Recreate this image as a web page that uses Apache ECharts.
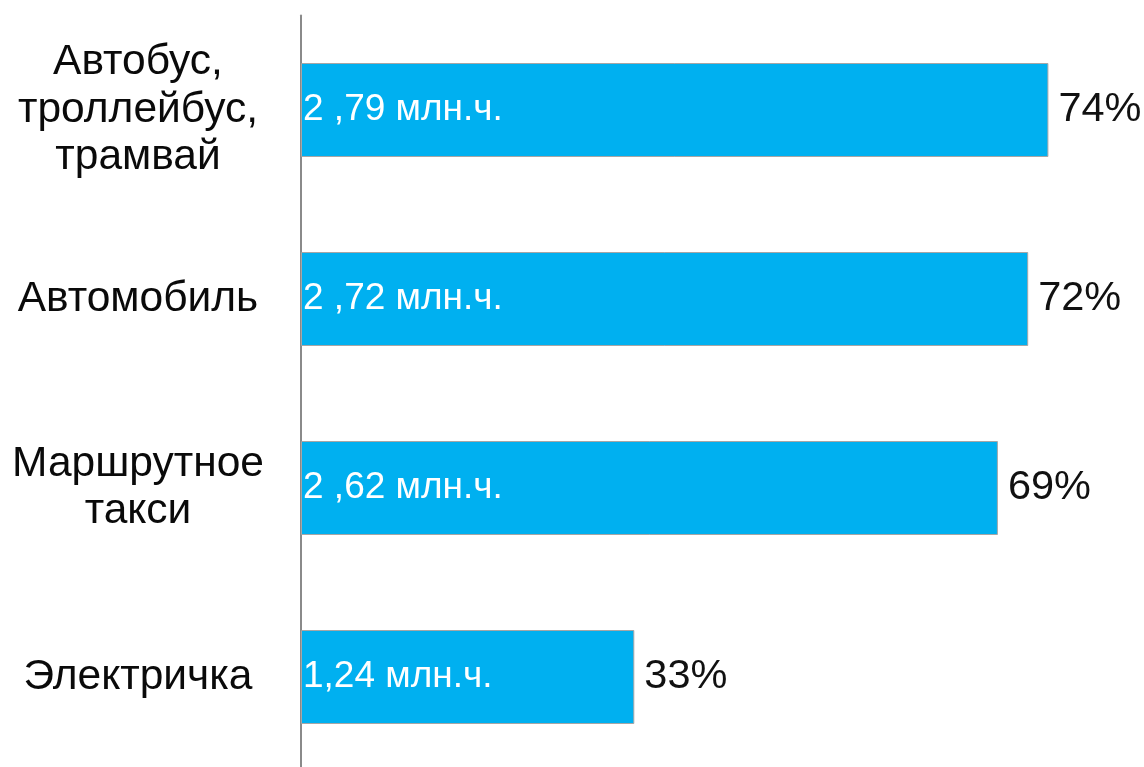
<!DOCTYPE html>
<html>
<head>
<meta charset="utf-8">
<script src="https://cdn.jsdelivr.net/npm/echarts@6/dist/echarts.min.js"></script>
<style>
  html, body { margin: 0; padding: 0; background: #ffffff; overflow: hidden; }
  /* The plot runs past the lower edge of the page, so the canvas is a bit taller */
  #chart { width: 1144px; height: 780px; }
</style>
</head>
<body>
<div id="chart"></div>
<script>
// Transport modes (top to bottom)
var categories = [
  'Автобус,\nтроллейбус,\nтрамвай',
  'Автомобиль',
  'Маршрутное\nтакси',
  'Электричка'
];
// Share of time, percent
var shares = [74, 72, 69, 33];
// Hours shown inside each bar
var hourLabels = ['2 ,79 млн.ч.', '2 ,72 млн.ч.', '2 ,62 млн.ч.', '1,24 млн.ч.'];

var font = '"Liberation Sans", Arial, sans-serif';

var chart = echarts.init(document.getElementById('chart'), null, { renderer: 'canvas' });

chart.setOption({
  animation: false,
  backgroundColor: '#ffffff',
  grid: { left: 301, top: 15.5, width: 808, height: 756, containLabel: false },
  xAxis: {
    type: 'value',
    min: 0,
    max: 80,
    show: false
  },
  yAxis: {
    type: 'category',
    inverse: true,
    data: categories,
    axisLine: { show: true, lineStyle: { color: '#8a8a8a', width: 2 } },
    axisTick: { show: false },
    splitLine: { show: false },
    axisLabel: {
      margin: 163,
      align: 'center',
      color: '#0a0a0a',
      fontFamily: font,
      fontSize: 42.5,
      lineHeight: 47.5
    }
  },
  series: [
    {
      type: 'bar',
      data: shares,
      barWidth: 94,
      itemStyle: { color: '#00b0f0', borderColor: '#a6a6a6', borderWidth: 1 },
      label: {
        show: true,
        position: 'right',
        distance: 10,
        formatter: '{c}%',
        color: '#111111',
        fontFamily: font,
        fontSize: 41.5
      }
    },
    {
      // Transparent overlay carrying the in-bar hour labels
      type: 'bar',
      data: shares,
      barWidth: 94,
      barGap: '-100%',
      itemStyle: { color: 'rgba(0,0,0,0)' },
      label: {
        show: true,
        position: 'insideLeft',
        distance: 2,
        formatter: function (p) { return hourLabels[p.dataIndex]; },
        color: '#ffffff',
        fontFamily: font,
        fontSize: 37
      },
      z: 3
    }
  ]
});
</script>
</body>
</html>
